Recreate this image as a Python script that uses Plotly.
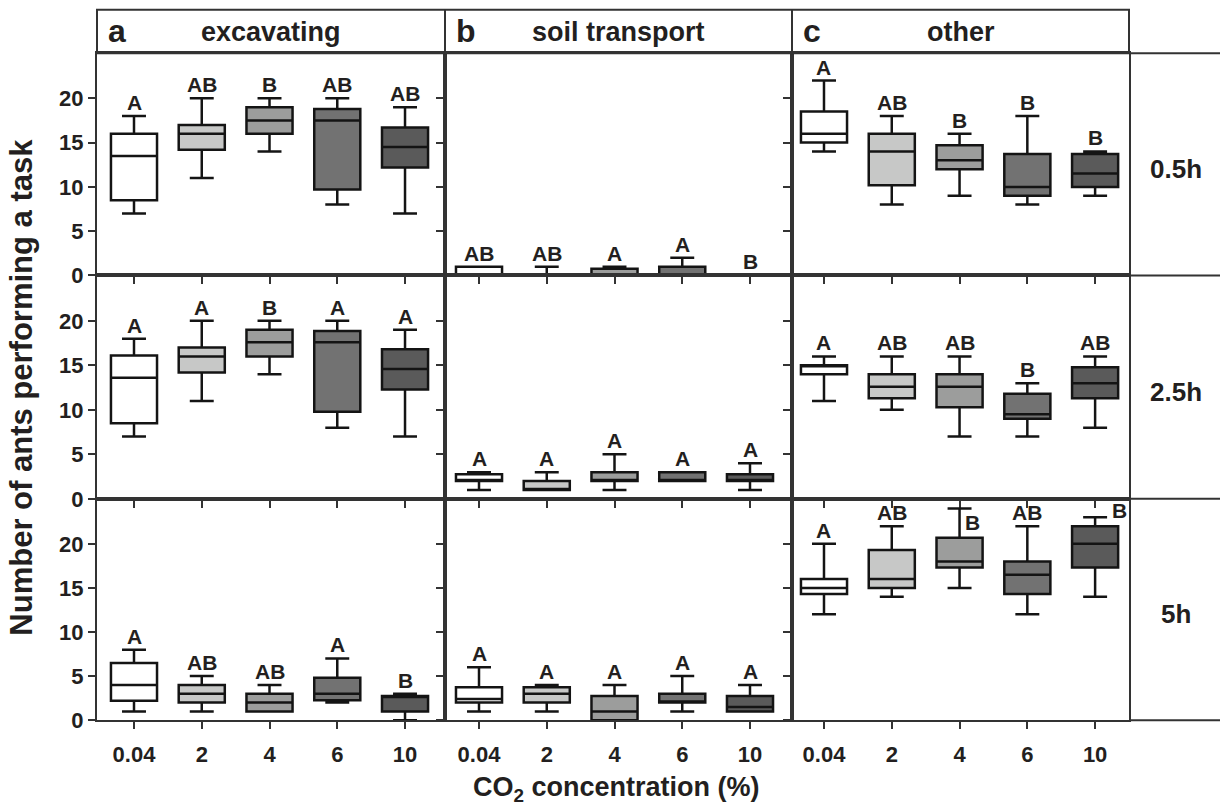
import plotly.graph_objects as go

# ---------------- data ----------------
conc = ["0.04", "2", "4", "6", "10"]
tasks = ["excavating", "soil transport", "other"]
task_letters = ["a", "b", "c"]
times = ["0.5h", "2.5h", "5h"]
y_ticks = [0, 5, 10, 15, 20]

# rows = times (0.5h, 2.5h, 5h); columns = CO2 concentrations
exc_low = [[7, 11, 14, 8, 7], [7, 11, 14, 8, 7], [1, 1, 1, 2, 0]]
exc_q1 = [[8.5, 14.2, 16, 9.7, 12.2], [8.5, 14.2, 16, 9.8, 12.3], [2.2, 2, 1, 2.25, 1]]
exc_med = [[13.5, 16, 17.5, 17.5, 14.5], [13.6, 16, 17.6, 17.6, 14.6], [4, 3, 2, 3, 2.75]]
exc_q3 = [[16, 17, 19, 18.8, 16.7], [16.1, 17, 19, 18.85, 16.8], [6.5, 4, 3, 4.8, 2.75]]
exc_up = [[18, 20, 20, 20, 19], [18, 20, 20, 20, 19], [8, 5, 4, 7, 3]]
exc_sig = [["A", "AB", "B", "AB", "AB"], ["A", "A", "B", "A", "A"], ["A", "AB", "AB", "A", "B"]]

soil_low = [[0, 0, 0, 0, 0], [1, 1, 1, 2, 1], [1, 1, 0, 1, 1]]
soil_q1 = [[0, 0, 0, 0, 0], [2, 1, 2, 2, 2], [2, 2, 0, 2, 1]]
soil_med = [[0, 0, 0, 0, 0], [2, 1, 2, 2, 2], [2.4, 3, 1, 2, 1.5]]
soil_q3 = [[1, 0, 0.75, 1, 0], [2.75, 2, 3, 3, 2.75], [3.75, 3.75, 2.75, 3, 2.75]]
soil_up = [[1, 1, 1, 2, 0], [3, 3, 5, 3, 4], [6, 4, 4, 5, 4]]
soil_sig = [["AB", "AB", "A", "A", "B"], ["A", "A", "A", "A", "A"], ["A", "A", "A", "A", "A"]]

oth_low = [[14, 8, 9, 8, 9], [11, 10, 7, 7, 8], [12, 14, 15, 12, 14]]
oth_q1 = [[15, 10.2, 12, 9, 10], [14, 11.3, 10.3, 9, 11.3], [14.3, 15, 17.3, 14.3, 17.3]]
oth_med = [[16, 14, 13, 10, 11.5], [15, 12.6, 12.6, 9.5, 13], [15, 16, 18, 16.5, 20]]
oth_q3 = [[18.5, 16, 14.7, 13.7, 13.7], [15, 14, 14, 11.8, 14.8], [16, 19.3, 20.7, 18, 22]]
oth_up = [[22, 18, 16, 18, 14], [16, 16, 16, 13, 16], [20, 22, 24, 22, 23]]
oth_sig = [["A", "AB", "B", "B", "B"], ["A", "AB", "AB", "B", "AB"], ["A", "AB", "B", "AB", "B"]]

# ---------------- styling / layout ----------------
W, H = 1220, 807
FONT = "Liberation Sans, Arial, Helvetica, sans-serif"
TXT = "#231f20"
FRAME = "#333333"
fills = ["#ffffff", "#c7c8c7", "#9c9d9c", "#727272", "#5a5a5a"]

col_px = [(97, 445), (445, 792), (792, 1129)]
row_px = [(54, 280), (280, 507), (507, 732)]
x_ranges = [(-0.546, 4.59), (-0.502, 4.62), (-0.472, 4.50)]
y_range = (0, 25.1)

LABEL_YSHIFT = 0
# special label placements (pixel shifts) : (col,row,idx) -> (xshift, yshift)
label_shift = {(2, 2, 2): (13, -27), (2, 2, 4): (24, -7)}


def px(x):
    return x / W


def py(y):
    return 1 - y / H


stats = [
    (exc_low, exc_q1, exc_med, exc_q3, exc_up, exc_sig),
    (soil_low, soil_q1, soil_med, soil_q3, soil_up, soil_sig),
    (oth_low, oth_q1, oth_med, oth_q3, oth_up, oth_sig),
]

fig = go.Figure()
layout = dict(
    width=W, height=H,
    margin=dict(l=0, r=0, t=0, b=0),
    paper_bgcolor="white", plot_bgcolor="white",
    showlegend=False,
    font=dict(family=FONT, color=TXT),
    boxmode="overlay",
)
annotations = []
shapes = []

tickfont = dict(family=FONT, size=22, color=TXT, weight="bold")

for r in range(3):
    for c in range(3):
        p = r * 3 + c + 1
        xa = "x" if p == 1 else f"x{p}"
        ya = "y" if p == 1 else f"y{p}"
        layout["xaxis" if p == 1 else f"xaxis{p}"] = dict(
            domain=[px(col_px[c][0]), px(col_px[c][1])],
            anchor=ya,
            type="category",
            categoryorder="array", categoryarray=conc,
            range=list(x_ranges[c]),
            showline=True, mirror=True, linecolor=FRAME, linewidth=2,
            ticks="outside", ticklen=7, tickwidth=2, tickcolor=FRAME,
            showticklabels=(r == 2), tickfont=tickfont, ticklabelstandoff=6,
            showgrid=False, zeroline=False, fixedrange=True,
        )
        layout["yaxis" if p == 1 else f"yaxis{p}"] = dict(
            domain=[py(row_px[r][1]), py(row_px[r][0])],
            anchor=xa,
            range=list(y_range),
            tickvals=y_ticks,
            showline=True, mirror=True, linecolor=FRAME, linewidth=2,
            ticks="outside", ticklen=7, tickwidth=2, tickcolor=FRAME,
            showticklabels=(c == 0), tickfont=tickfont, ticklabelstandoff=0,
            showgrid=False, zeroline=False, fixedrange=True,
        )
        low, q1, med, q3, up, sig = stats[c]
        for i in range(5):
            fig.add_trace(go.Box(
                x=[conc[i]],
                q1=[q1[r][i]], median=[med[r][i]], q3=[q3[r][i]],
                lowerfence=[low[r][i]], upperfence=[up[r][i]],
                fillcolor=fills[i],
                line=dict(color="#141414", width=2.5),
                width=0.68, whiskerwidth=0.52,
                boxpoints=False,
                xaxis=xa, yaxis=ya,
                hoverinfo="skip", showlegend=False,
            ))
            xs, ys = label_shift.get((c, r, i), (0, LABEL_YSHIFT))
            annotations.append(dict(
                x=i, y=up[r][i], xref=xa, yref=ya,
                text=sig[r][i], showarrow=False,
                xanchor="center", yanchor="bottom",
                xshift=xs, yshift=ys,
                font=dict(family=FONT, size=21, color=TXT, weight="bold"),
            ))

# header box
line = dict(color=FRAME, width=2)
shapes.append(dict(type="rect", xref="paper", yref="paper",
                   x0=px(97), x1=px(1129), y0=py(54), y1=py(10), line=line))
for xv in (445, 792):
    shapes.append(dict(type="line", xref="paper", yref="paper",
                       x0=px(xv), x1=px(xv), y0=py(54), y1=py(10), line=line))
# right-side label column lines
for yv in (54, 280, 507, 732):
    shapes.append(dict(type="line", xref="paper", yref="paper",
                       x0=px(1129), x1=1, y0=py(yv), y1=py(yv), line=line))

# header texts
for c in range(3):
    annotations.append(dict(
        x=px(col_px[c][0] + 9), y=py(32), xref="paper", yref="paper",
        text=task_letters[c], showarrow=False, xanchor="left", yanchor="middle",
        font=dict(family=FONT, size=32, color=TXT, weight="bold"),
    ))
    annotations.append(dict(
        x=px((col_px[c][0] + col_px[c][1]) / 2), y=py(33), xref="paper", yref="paper",
        text=tasks[c], showarrow=False, xanchor="center", yanchor="middle",
        font=dict(family=FONT, size=27, color=TXT, weight="bold"),
    ))

# row labels
for r in range(3):
    annotations.append(dict(
        x=px(1176), y=py((row_px[r][0] + row_px[r][1]) / 2 + 5), xref="paper", yref="paper",
        text=times[r], showarrow=False, xanchor="center", yanchor="middle",
        font=dict(family=FONT, size=26, color=TXT, weight="bold"),
    ))

# axis titles
annotations.append(dict(
    x=px(22), y=py(394), xref="paper", yref="paper",
    text="Number of ants performing a task", textangle=-90,
    showarrow=False, xanchor="center", yanchor="middle",
    font=dict(family=FONT, size=31, color=TXT, weight="bold"),
))
annotations.append(dict(
    x=px(616), y=py(802), xref="paper", yref="paper",
    text="CO<sub>2</sub> concentration (%)",
    showarrow=False, xanchor="center", yanchor="middle",
    font=dict(family=FONT, size=27, color=TXT, weight="bold"),
))

layout["annotations"] = annotations
layout["shapes"] = shapes
fig.update_layout(**layout)
fig.write_html("out.html")
